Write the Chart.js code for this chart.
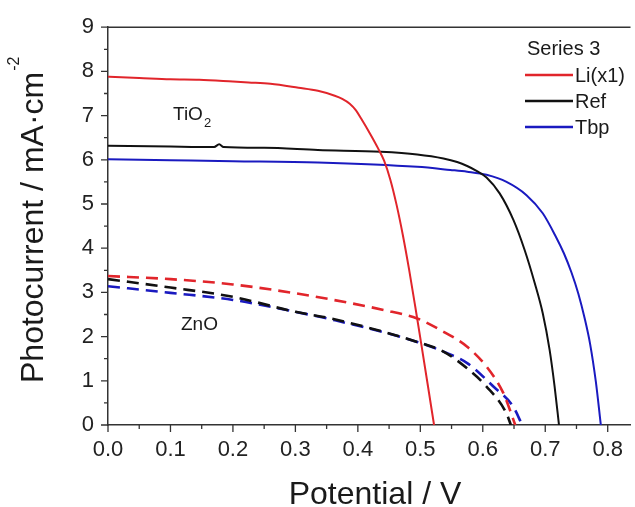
<!DOCTYPE html>
<html>
<head>
<meta charset="utf-8">
<script src="https://cdn.jsdelivr.net/npm/chart.js@4.4.1/dist/chart.umd.min.js"></script>
<style>
  html, body { margin: 0; padding: 0; background: #fff; }
  #wrap { width: 635px; height: 507px; position: relative; }
</style>
</head>
<body>
<div id="wrap"><canvas id="jvChart"></canvas></div>
<script>
// courbes J-V (TiO2 = traits pleins, ZnO = pointillés)
var xTicks = [0, 0.1, 0.2, 0.3, 0.4, 0.5, 0.6, 0.7, 0.8];
var yTicks = [0, 1, 2, 3, 4, 5, 6, 7, 8, 9];

var liTiO2V = [0, 0.05, 0.1, 0.146, 0.2, 0.225, 0.26, 0.305, 0.336, 0.363, 0.375, 0.387, 0.397, 0.405, 0.42, 0.432, 0.442, 0.452, 0.462, 0.472, 0.482, 0.492, 0.502, 0.512, 0.522];
var liTiO2I = [7.88, 7.85, 7.82, 7.81, 7.77, 7.75, 7.72, 7.63, 7.56, 7.45, 7.38, 7.27, 7.12, 6.94, 6.58, 6.27, 5.98, 5.55, 4.98, 4.30, 3.52, 2.67, 1.79, 0.90, 0];

var refTiO2V = [0, 0.1, 0.17, 0.178, 0.185, 0.25, 0.336, 0.437, 0.495, 0.537, 0.559, 0.575, 0.59, 0.606, 0.627, 0.649, 0.667, 0.683, 0.696, 0.707, 0.715, 0.722];
var refTiO2I = [6.32, 6.30, 6.29, 6.35, 6.29, 6.27, 6.22, 6.18, 6.12, 6.03, 5.95, 5.86, 5.75, 5.60, 5.24, 4.64, 3.96, 3.22, 2.53, 1.70, 0.87, 0];

var tbpTiO2V = [0, 0.1, 0.2, 0.336, 0.495, 0.548, 0.575, 0.606, 0.638, 0.67, 0.696, 0.717, 0.73, 0.742, 0.753, 0.763, 0.772, 0.781, 0.789];
var tbpTiO2I = [6.01, 5.99, 5.97, 5.94, 5.84, 5.77, 5.73, 5.66, 5.50, 5.20, 4.79, 4.26, 3.88, 3.45, 2.97, 2.42, 1.82, 0.98, 0];

var liZnOV = [0, 0.1, 0.2, 0.3, 0.357, 0.442, 0.495, 0.532, 0.575, 0.606, 0.633, 0.652];
var liZnOI = [3.37, 3.30, 3.18, 2.98, 2.84, 2.60, 2.41, 2.15, 1.77, 1.32, 0.72, 0];

var refZnOV = [0, 0.1, 0.2, 0.3, 0.357, 0.495, 0.537, 0.575, 0.606, 0.638, 0.645];
var refZnOI = [3.30, 3.11, 2.90, 2.56, 2.41, 1.88, 1.66, 1.28, 0.87, 0.26, 0];

var tbpZnOV = [0, 0.1, 0.2, 0.3, 0.357, 0.495, 0.537, 0.575, 0.617, 0.649, 0.663];
var tbpZnOI = [3.14, 2.99, 2.83, 2.56, 2.39, 1.88, 1.66, 1.40, 0.87, 0.41, 0];

var legendTitle = 'Series 3';
var seriesNames = ['Li(x1)', 'Ref', 'Tbp'];
var seriesColors = ['#e1252b', '#111111', '#1a1ac0'];

var FONT = "'Liberation Sans', Arial, sans-serif";
var AXIS = '#333333';

function pts(xs, ys) {
    var out = [];
    for (var i = 0; i < xs.length; i++) out.push({ x: xs[i], y: ys[i] });
    return out;
}

function serie(label, xs, ys, color, dashed) {
    return {
        label: label,
        data: pts(xs, ys),
        borderColor: color,
        backgroundColor: color,
        borderWidth: dashed ? 2.6 : 2,
        borderDash: dashed ? [12, 7] : [],
        pointRadius: 0,
        showLine: true,
        cubicInterpolationMode: 'monotone',
        isZnO: dashed
    };
}

// ticks, cadre du haut, titres des axes, légende et annotations
var decorPlugin = {
    id: 'decor',
    afterDraw: function(chart) {
        var ctx = chart.ctx;
        var a = chart.chartArea;
        var xs = chart.scales.x, ys = chart.scales.y;
        ctx.save();
        ctx.strokeStyle = AXIS;
        ctx.lineWidth = 1.5;
        ctx.beginPath();
        ctx.moveTo(a.left, a.top);
        ctx.lineTo(a.right, a.top);
        ctx.stroke();

        ctx.lineWidth = 1.3;
        ctx.beginPath();
        for (var v = 0; v <= 0.8001; v += 0.05) {
            var px = xs.getPixelForValue(v);
            var major = Math.abs(v * 10 - Math.round(v * 10)) < 0.01;
            ctx.moveTo(px, a.bottom);
            ctx.lineTo(px, a.bottom + (major ? 7 : 4));
        }
        for (var w = 0; w <= 9.001; w += 0.5) {
            var py = ys.getPixelForValue(w);
            var maj = Math.abs(w - Math.round(w)) < 0.01;
            ctx.moveTo(a.left, py);
            ctx.lineTo(a.left - (maj ? 7 : 4), py);
        }
        ctx.stroke();

        // titres des axes
        ctx.fillStyle = '#1a1a1a';
        ctx.font = '32px ' + FONT;
        ctx.textAlign = 'center';
        ctx.textBaseline = 'alphabetic';
        ctx.fillText('Potential / V', 375, 504);

        ctx.save();
        ctx.translate(43, 383);
        ctx.rotate(-Math.PI / 2);
        ctx.textAlign = 'left';
        var main = 'Photocurrent / mA\u00b7cm';
        ctx.fillText(main, 0, 0);
        var mw = ctx.measureText(main).width;
        ctx.font = '16px ' + FONT;
        ctx.fillText('-2', mw + 1, -24);
        ctx.restore();

        // légende
        ctx.font = '20px ' + FONT;
        ctx.textAlign = 'left';
        ctx.textBaseline = 'alphabetic';
        ctx.fillText(legendTitle, 527, 55);
        ctx.textBaseline = 'middle';
        chart.data.datasets.forEach(function(ds) {
            var k = seriesNames.indexOf(ds.label);
            if (ds.isZnO || k < 0) return;
            var ly = 75 + k * 26;
            ctx.strokeStyle = ds.borderColor;
            ctx.lineWidth = 2.5;
            ctx.beginPath();
            ctx.moveTo(525, ly);
            ctx.lineTo(573, ly);
            ctx.stroke();
            ctx.fillStyle = '#1a1a1a';
            ctx.fillText(ds.label, 575, ly + 1);
        });

        // annotations
        ctx.textBaseline = 'alphabetic';
        ctx.font = '19px ' + FONT;
        ctx.fillText('TiO', 173, 120);
        var tw = ctx.measureText('TiO').width;
        ctx.font = '13px ' + FONT;
        ctx.fillText('2', 173 + tw + 1, 127);
        ctx.font = '19px ' + FONT;
        ctx.fillText('ZnO', 181, 330);
        ctx.restore();
    }
};

var ctx = document.getElementById('jvChart').getContext('2d');
var jvChart = new Chart(ctx, {
    type: 'scatter',
    data: {
        datasets: [
            serie(seriesNames[0], liTiO2V, liTiO2I, seriesColors[0], false),
            serie(seriesNames[1], refTiO2V, refTiO2I, seriesColors[1], false),
            serie(seriesNames[2], tbpTiO2V, tbpTiO2I, seriesColors[2], false),
            serie(seriesNames[0] + ' ZnO', liZnOV, liZnOI, seriesColors[0], true),
            serie(seriesNames[1] + ' ZnO', refZnOV, refZnOI, seriesColors[1], true),
            serie(seriesNames[2] + ' ZnO', tbpZnOV, tbpZnOI, seriesColors[2], true)
        ]
    },
    options: {
        responsive: true,
        maintainAspectRatio: false,
        animation: false,
        layout: { padding: { top: 27, left: 0, right: 0, bottom: 0 } },
        plugins: {
            legend: { display: false },
            tooltip: { enabled: false }
        },
        scales: {
            x: {
                type: 'linear',
                min: 0,
                max: 0.8365,
                afterBuildTicks: function(scale) {
                    scale.ticks = xTicks.map(function(v) { return { value: v }; });
                },
                afterFit: function(scale) { scale.height = 82; },
                grid: { display: false, drawTicks: false },
                border: { display: true, color: AXIS, width: 1.5 },
                ticks: {
                    autoSkip: false,
                    maxRotation: 0,
                    padding: 12,
                    color: '#222',
                    font: { family: FONT, size: 22 },
                    callback: function(v) { return Number(v).toFixed(1); }
                }
            },
            y: {
                type: 'linear',
                min: 0,
                max: 9,
                afterBuildTicks: function(scale) {
                    scale.ticks = yTicks.map(function(v) { return { value: v }; });
                },
                afterFit: function(scale) { scale.width = 108; },
                grid: { display: false, drawTicks: false },
                border: { display: true, color: AXIS, width: 1.5 },
                ticks: {
                    padding: 14,
                    color: '#222',
                    font: { family: FONT, size: 22 }
                }
            }
        }
    },
    plugins: [decorPlugin]
});
</script>
</body>
</html>
